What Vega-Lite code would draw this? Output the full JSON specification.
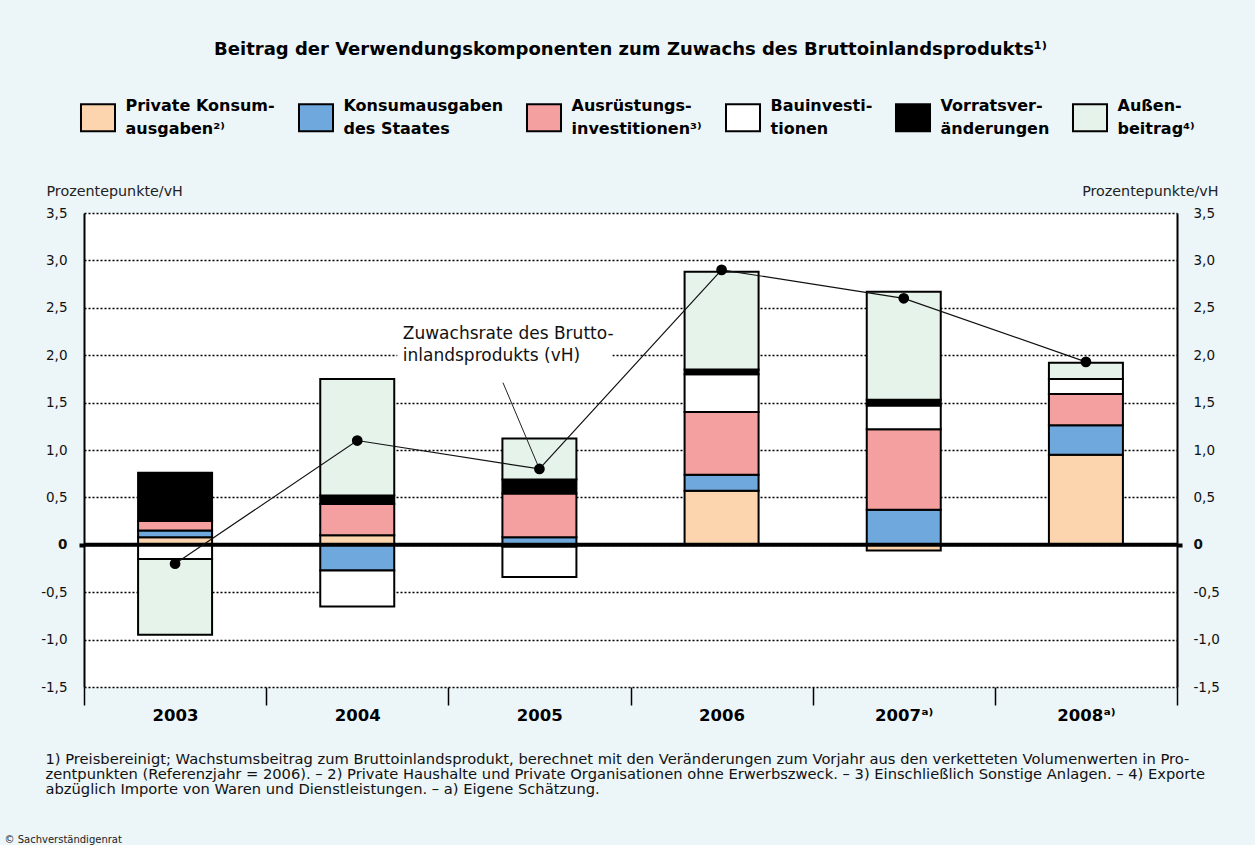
{
  "$schema": "https://vega.github.io/schema/vega-lite/v6.json",
  "width": 1093,
  "height": 474,
  "autosize": {"type": "none"},
  "padding": {"left": 84, "top": 213, "right": 78, "bottom": 158},
  "background": "#ecf5f8",
  "title": {
    "text": "Beitrag der Verwendungskomponenten zum Zuwachs des Bruttoinlandsprodukts¹⁾",
    "fontSize": 18,
    "fontWeight": "bold",
    "color": "black",
    "anchor": "middle",
    "offset": 44
  },
  "datasets": {
    "bars": [
      {"year": 2003, "comp": "Private Konsum-|ausgaben²⁾", "k": 1, "value": 0.08},
      {"year": 2003, "comp": "Konsumausgaben|des Staates", "k": 2, "value": 0.07},
      {"year": 2003, "comp": "Ausrüstungs-|investitionen³⁾", "k": 3, "value": 0.10},
      {"year": 2003, "comp": "Bauinvesti-|tionen", "k": 4, "value": -0.15},
      {"year": 2003, "comp": "Vorratsver-|änderungen", "k": 5, "value": 0.51},
      {"year": 2003, "comp": "Außen-|beitrag⁴⁾", "k": 6, "value": -0.80},
      {"year": 2004, "comp": "Private Konsum-|ausgaben²⁾", "k": 1, "value": 0.10},
      {"year": 2004, "comp": "Konsumausgaben|des Staates", "k": 2, "value": -0.27},
      {"year": 2004, "comp": "Ausrüstungs-|investitionen³⁾", "k": 3, "value": 0.33},
      {"year": 2004, "comp": "Bauinvesti-|tionen", "k": 4, "value": -0.38},
      {"year": 2004, "comp": "Vorratsver-|änderungen", "k": 5, "value": 0.09},
      {"year": 2004, "comp": "Außen-|beitrag⁴⁾", "k": 6, "value": 1.23},
      {"year": 2005, "comp": "Private Konsum-|ausgaben²⁾", "k": 1, "value": -0.02},
      {"year": 2005, "comp": "Konsumausgaben|des Staates", "k": 2, "value": 0.08},
      {"year": 2005, "comp": "Ausrüstungs-|investitionen³⁾", "k": 3, "value": 0.46},
      {"year": 2005, "comp": "Bauinvesti-|tionen", "k": 4, "value": -0.32},
      {"year": 2005, "comp": "Vorratsver-|änderungen", "k": 5, "value": 0.15},
      {"year": 2005, "comp": "Außen-|beitrag⁴⁾", "k": 6, "value": 0.43},
      {"year": 2006, "comp": "Private Konsum-|ausgaben²⁾", "k": 1, "value": 0.57},
      {"year": 2006, "comp": "Konsumausgaben|des Staates", "k": 2, "value": 0.17},
      {"year": 2006, "comp": "Ausrüstungs-|investitionen³⁾", "k": 3, "value": 0.66},
      {"year": 2006, "comp": "Bauinvesti-|tionen", "k": 4, "value": 0.40},
      {"year": 2006, "comp": "Vorratsver-|änderungen", "k": 5, "value": 0.05},
      {"year": 2006, "comp": "Außen-|beitrag⁴⁾", "k": 6, "value": 1.03},
      {"year": 2007, "comp": "Private Konsum-|ausgaben²⁾", "k": 1, "value": -0.06},
      {"year": 2007, "comp": "Konsumausgaben|des Staates", "k": 2, "value": 0.37},
      {"year": 2007, "comp": "Ausrüstungs-|investitionen³⁾", "k": 3, "value": 0.85},
      {"year": 2007, "comp": "Bauinvesti-|tionen", "k": 4, "value": 0.25},
      {"year": 2007, "comp": "Vorratsver-|änderungen", "k": 5, "value": 0.06},
      {"year": 2007, "comp": "Außen-|beitrag⁴⁾", "k": 6, "value": 1.14},
      {"year": 2008, "comp": "Private Konsum-|ausgaben²⁾", "k": 1, "value": 0.95},
      {"year": 2008, "comp": "Konsumausgaben|des Staates", "k": 2, "value": 0.31},
      {"year": 2008, "comp": "Ausrüstungs-|investitionen³⁾", "k": 3, "value": 0.33},
      {"year": 2008, "comp": "Bauinvesti-|tionen", "k": 4, "value": 0.16},
      {"year": 2008, "comp": "Vorratsver-|änderungen", "k": 5, "value": 0.0},
      {"year": 2008, "comp": "Außen-|beitrag⁴⁾", "k": 6, "value": 0.17}
    ],
    "gdp": [
      {"year": 2003, "gdp": -0.2},
      {"year": 2004, "gdp": 1.1},
      {"year": 2005, "gdp": 0.8},
      {"year": 2006, "gdp": 2.9},
      {"year": 2007, "gdp": 2.6},
      {"year": 2008, "gdp": 1.93}
    ],
    "zero": [{"v": 0}],
    "notebg": [{"x": 2004.22, "x2": 2005.4, "y": 1.9, "y2": 2.34}],
    "leader": [{"x": 2004.8, "y": 1.71, "x2": 2005.0, "y2": 0.8}],
    "note": [{"x": 2004.25, "y": 2.17, "text": ["Zuwachsrate des Brutto-", "inlandsprodukts (vH)"]}]
  },
  "layer": [
    {
      "data": {"name": "notebg"},
      "mark": {"type": "rect", "color": "white"},
      "encoding": {
        "x": {"field": "x", "type": "quantitative", "scale": {"domain": [2002.5, 2008.5], "nice": false, "zero": false, "padding": 0}, "axis": null},
        "x2": {"field": "x2"},
        "y": {"field": "y", "type": "quantitative", "scale": {"domain": [-1.5, 3.5], "nice": false, "zero": false}, "axis": null},
        "y2": {"field": "y2"}
      }
    },
    {
      "data": {"name": "bars"},
      "mark": {"type": "bar", "orient": "vertical", "size": 74, "stroke": "black", "strokeWidth": 2},
      "encoding": {
        "x": {
          "field": "year",
          "type": "quantitative",
          "scale": {"domain": [2002.5, 2008.5], "nice": false, "zero": false, "padding": 0},
          "axis": {
            "orient": "bottom",
            "values": [2002.5, 2003.5, 2004.5, 2005.5, 2006.5, 2007.5, 2008.5],
            "domain": false,
            "grid": false,
            "ticks": true,
            "tickSize": 18,
            "tickColor": "black",
            "tickWidth": 1.5,
            "labelOffset": 91,
            "labelExpr": "datum.value > 2008 ? '' : datum.value > 2007 ? '2008ᵃ⁾' : datum.value > 2006 ? '2007ᵃ⁾' : format(datum.value + 0.5, 'd')",
            "labelFontSize": 16.5,
            "labelFontWeight": "bold",
            "labelColor": "black",
            "labelPadding": 2,
            "labelFlush": false,
            "labelOverlap": false,
            "labelBound": false,
            "title": [
              "1) Preisbereinigt; Wachstumsbeitrag zum Bruttoinlandsprodukt, berechnet mit den Veränderungen zum Vorjahr aus den verketteten Volumenwerten in Pro-",
              "zentpunkten (Referenzjahr = 2006). – 2) Private Haushalte und Private Organisationen ohne Erwerbszweck. – 3) Einschließlich Sonstige Anlagen. – 4) Exporte",
              "abzüglich Importe von Waren und Dienstleistungen. – a) Eigene Schätzung."
            ],
            "titleX": -39,
            "titleY": 76,
            "titleAlign": "left",
            "titleAnchor": "start",
            "titleBaseline": "alphabetic",
            "titleFontSize": 14.7,
            "titleFontWeight": "normal",
            "titleLineHeight": 15,
            "titleColor": "#111111"
          }
        },
        "y": {
          "field": "value",
          "type": "quantitative",
          "stack": "zero",
          "scale": {"domain": [-1.5, 3.5], "nice": false, "zero": false},
          "axis": {
            "orient": "left",
            "values": [-1.5, -1, -0.5, 0, 0.5, 1, 1.5, 2, 2.5, 3, 3.5],
            "grid": true,
            "gridColor": "black",
            "gridDash": [2, 2],
            "gridWidth": 1.5,
            "domain": true,
            "domainColor": "black",
            "domainWidth": 2,
            "ticks": true,
            "tickSize": 5,
            "tickWidth": 4,
            "tickColor": {"condition": {"test": "datum.value === 0", "value": "black"}, "value": "transparent"},
            "labelExpr": "datum.value === 0 ? '0' : replace(replace(format(datum.value, '.1f'), '.', ','), '−', '-')",
            "labelFontSize": 13.5,
            "labelColor": "#111111",
            "labelFontWeight": {"condition": {"test": "datum.value === 0", "value": "bold"}, "value": "normal"},
            "labelPadding": 12,
            "labelFlush": false,
            "labelOverlap": false,
            "title": "Prozentepunkte/vH",
            "titleAngle": 0,
            "titleAlign": "left",
            "titleBaseline": "alphabetic",
            "titleX": -38,
            "titleY": -18,
            "titleFontSize": 14.3,
            "titleFontWeight": "normal",
            "titleColor": "#222222"
          }
        },
        "color": {
          "field": "comp",
          "type": "nominal",
          "scale": {
            "domain": ["Private Konsum-|ausgaben²⁾", "Konsumausgaben|des Staates", "Ausrüstungs-|investitionen³⁾", "Bauinvesti-|tionen", "Vorratsver-|änderungen", "Außen-|beitrag⁴⁾"],
            "range": ["#fcd5ae", "#6fa8dc", "#f4a0a0", "#ffffff", "#000000", "#e6f3ea"]
          },
          "legend": {
            "orient": "none",
            "legendX": -0.5,
            "legendY": -110,
            "direction": "horizontal",
            "title": null,
            "symbolType": "M-1.26,-1H1.26V1H-1.26Z",
            "symbolSize": 729,
            "symbolStrokeColor": "black",
            "symbolStrokeWidth": 2,
            "symbolOpacity": 1,
            "labelExpr": "split(datum.label, '|')",
            "labelBaseline": "line-bottom",
            "labelFontSize": 16,
            "labelFontWeight": "bold",
            "labelColor": "black",
            "labelLimit": 400,
            "labelOffset": 13,
            "columnPadding": 19
          }
        },
        "order": {"field": "k", "type": "quantitative"}
      }
    },
    {
      "data": {"name": "zero"},
      "mark": {"type": "rule", "color": "black", "strokeWidth": 4},
      "encoding": {
        "y": {"field": "v", "type": "quantitative", "scale": {"domain": [-1.5, 3.5], "nice": false, "zero": false}, "axis": null}
      }
    },
    {
      "data": {"name": "leader"},
      "mark": {"type": "rule", "color": "#222222", "strokeWidth": 1},
      "encoding": {
        "x": {"field": "x", "type": "quantitative", "scale": {"domain": [2002.5, 2008.5], "nice": false, "zero": false, "padding": 0}, "axis": null},
        "y": {"field": "y", "type": "quantitative", "scale": {"domain": [-1.5, 3.5], "nice": false, "zero": false}, "axis": null},
        "x2": {"field": "x2"},
        "y2": {"field": "y2"}
      }
    },
    {
      "data": {"name": "gdp"},
      "mark": {"type": "line", "color": "#111111", "strokeWidth": 1.2, "point": {"filled": true, "size": 115, "color": "black"}},
      "encoding": {
        "x": {
          "field": "year",
          "type": "quantitative",
          "scale": {"domain": [2002.5, 2008.5], "nice": false, "zero": false, "padding": 0},
          "axis": {
            "orient": "bottom",
            "domain": false,
            "ticks": false,
            "labels": false,
            "grid": false,
            "title": "© Sachverständigenrat",
            "titleX": -80,
            "titleY": 155,
            "titleAlign": "left",
            "titleAnchor": "start",
            "titleBaseline": "alphabetic",
            "titleFontSize": 10,
            "titleFontWeight": "normal",
            "titleColor": "#222222"
          }
        },
        "y": {
          "field": "gdp",
          "type": "quantitative",
          "scale": {"domain": [-1.5, 3.5], "nice": false, "zero": false},
          "axis": {
            "orient": "right",
            "values": [-1.5, -1, -0.5, 0, 0.5, 1, 1.5, 2, 2.5, 3, 3.5],
            "grid": false,
            "domain": true,
            "domainColor": "black",
            "domainWidth": 2,
            "ticks": true,
            "tickSize": 5,
            "tickWidth": 4,
            "tickColor": {"condition": {"test": "datum.value === 0", "value": "black"}, "value": "transparent"},
            "labelExpr": "datum.value === 0 ? '0' : replace(replace(format(datum.value, '.1f'), '.', ','), '−', '-')",
            "labelFontSize": 13.5,
            "labelColor": "#111111",
            "labelFontWeight": {"condition": {"test": "datum.value === 0", "value": "bold"}, "value": "normal"},
            "labelPadding": 11,
            "labelFlush": false,
            "labelOverlap": false,
            "title": "Prozentepunkte/vH",
            "titleAngle": 0,
            "titleAlign": "right",
            "titleBaseline": "alphabetic",
            "titleX": 41,
            "titleY": -18,
            "titleFontSize": 14.3,
            "titleFontWeight": "normal",
            "titleColor": "#222222"
          }
        }
      }
    },
    {
      "data": {"name": "note"},
      "mark": {"type": "text", "align": "left", "baseline": "alphabetic", "fontSize": 17, "lineHeight": 22, "color": "#111111"},
      "encoding": {
        "x": {"field": "x", "type": "quantitative", "scale": {"domain": [2002.5, 2008.5], "nice": false, "zero": false, "padding": 0}, "axis": null},
        "y": {"field": "y", "type": "quantitative", "scale": {"domain": [-1.5, 3.5], "nice": false, "zero": false}, "axis": null},
        "text": {"field": "text"}
      }
    }
  ],
  "resolve": {"axis": {"x": "independent", "y": "independent"}},
  "config": {
    "font": "DejaVu Sans",
    "view": {"fill": "white", "stroke": null},
    "scale": {"continuousPadding": 0},
    "style": {"guide-label": {"lineHeight": 23}}
  }
}
